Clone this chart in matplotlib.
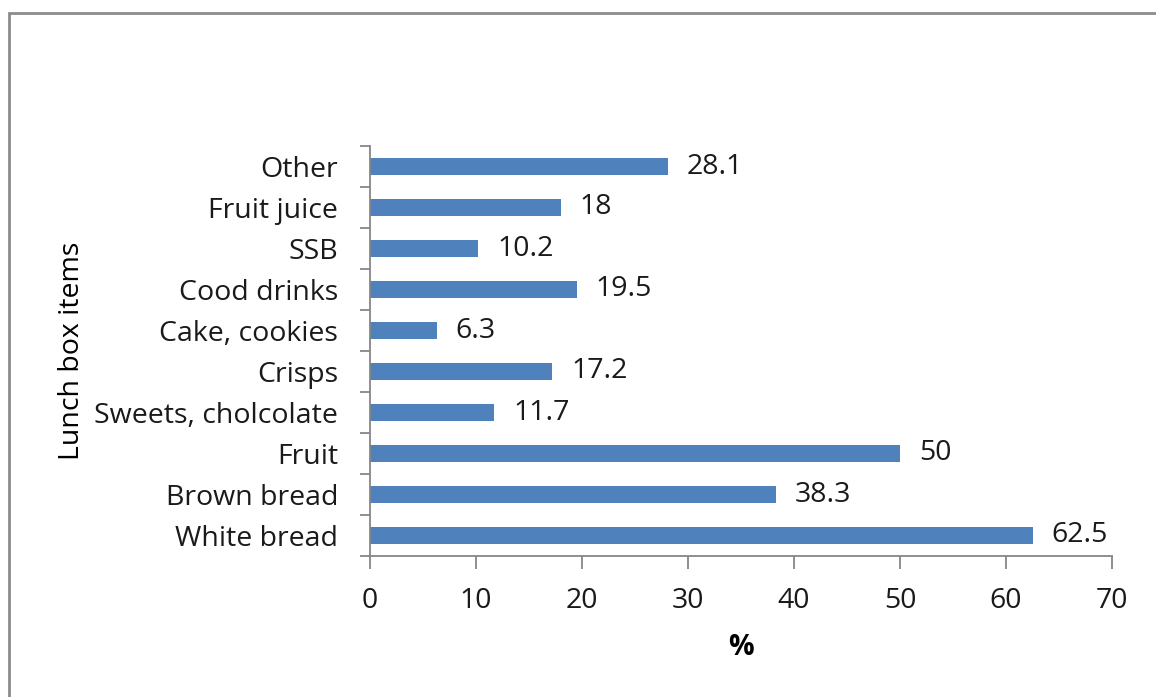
import numpy as np
import matplotlib.pyplot as plt
from matplotlib.patches import Rectangle

# lunch box items, bottom to top
items = ['White bread', 'Brown bread', 'Fruit', 'Sweets, cholcolate', 'Crisps',
         'Cake, cookies', 'Cood drinks', 'SSB', 'Fruit juice', 'Other']
pct = [62.5, 38.3, 50, 11.7, 17.2, 6.3, 19.5, 10.2, 18, 28.1]
pct_labels = ['62.5', '38.3', '50', '11.7', '17.2', '6.3', '19.5', '10.2', '18', '28.1']
xticks = [0, 10, 20, 30, 40, 50, 60, 70]

plt.rcParams['font.family'] = ['Open Sans', 'DejaVu Sans']
grey = '#868686'
fs = 20.5

fig = plt.figure(figsize=(11.56, 6.97), dpi=100)
# outer frame like the excel chart area
fig.patches.append(Rectangle((9/1156, -0.1), 1.2, 1 - 13/697 + 0.1, transform=fig.transFigure,
                             fill=False, edgecolor='#8c8c8c', linewidth=2))

ax = fig.add_axes([370/1156, 1 - 556/697, (1112 - 370)/1156, (556 - 146)/697])
y = np.arange(len(items))
ax.barh(y, pct, height=0.42, color='#4f81bd')
for yi, v, lab in zip(y, pct, pct_labels):
    ax.annotate(lab, (v, yi), xytext=(19, 0), textcoords='offset pixels',
                va='center', ha='left', fontsize=fs, color='#1a1a1a')

ax.set_xlim(0, 70)
ax.set_ylim(-0.5, len(items) - 0.5)
ax.set_xticks(xticks)
ax.set_yticks(y)
ax.set_yticklabels(items)
ax.set_yticks(np.arange(-0.5, len(items)), minor=True)
ax.tick_params(axis='y', which='major', length=0, pad=23, labelsize=fs, labelcolor='#1a1a1a')
ax.tick_params(axis='y', which='minor', length=7, color=grey, width=1.3)
ax.tick_params(axis='x', length=9, color=grey, width=1.3, pad=13, labelsize=fs, labelcolor='#1a1a1a')
for s in ['top', 'right']:
    ax.spines[s].set_visible(False)
for s in ['left', 'bottom']:
    ax.spines[s].set_color(grey)
    ax.spines[s].set_linewidth(1.3)

ax.set_xlabel('%', fontsize=fs, fontweight='bold', labelpad=13)
ax.set_ylabel('Lunch box items', fontsize=fs, labelpad=6)

fig.savefig('out.png', dpi=100)
